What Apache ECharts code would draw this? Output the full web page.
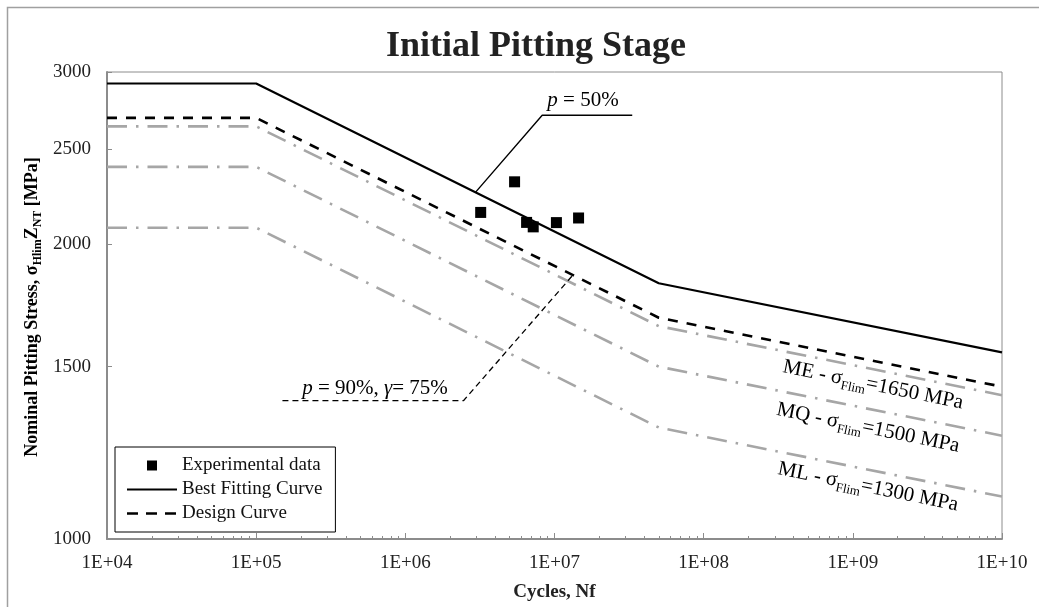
<!DOCTYPE html>
<html><head><meta charset="utf-8">
<script src="https://cdn.jsdelivr.net/npm/echarts@6/dist/echarts.min.js"></script>
<style>html,body{margin:0;padding:0;background:#fff}#c{width:1039px;height:607px}</style>
</head><body><div id="c"></div>
<script>
// ---- data ----
const cycleTicks = [1e4, 1e5, 1e6, 1e7, 1e8, 1e9, 1e10];
const stressTicks = [1000, 1500, 2000, 2500, 3000];
const curveCycles = [1e4, 1e5, 5e7, 1e10];
const bestFit = [2920, 2920, 1825, 1551];
const designCurve = [2693, 2693, 1683, 1431];
const meCurve = [2640, 2640, 1650, 1402.5];
const mqCurve = [2400, 2400, 1500, 1275];
const mlCurve = [2080, 2080, 1300, 1105];
const expCycles = [3.2e6, 5.4e6, 6.5e6, 7.2e6, 1.03e7, 1.45e7];
const expStress = [2156, 2317, 2106, 2084, 2105, 2128];
const p50LeaderCycles = [2.95e6, 8.27e6, 3.32e7];
const p50LeaderStress = [2260, 2710, 2710];
const p90LeaderCycles = [1.5e5, 2.46e6, 1.33e7];
const p90LeaderStress = [1385, 1385, 1861];

// minor tick positions (2..9 within each decade)
const minorTicks = [];
for (let i = 0; i < cycleTicks.length - 1; i++) {
  for (let k = 2; k <= 9; k++) minorTicks.push(k * cycleTicks[i]);
}
const zip = (xs, ys) => xs.map((x, i) => [x, ys[i]]);

const FONT = 'Liberation Serif';
const GRAY = '#a6a6a6';
const GRAYTXT = '#8c8c8c';
const AXIS = '#8c8c8c';

// legend icons (box 50 x 14, degenerate corner points keep the box size)
const ICON_SQUARE = 'path://M0,0L0,0M20,2L30,2L30,12L20,12ZM50,14L50,14';
const ICON_SOLID = 'path://M0,0L0,0M0,6L50,6L50,8L0,8ZM50,14L50,14';
const ICON_DASH = 'path://M0,0L0,0M0,5.7L11,5.7L11,8.3L0,8.3ZM19,5.7L30,5.7L30,8.3L19,8.3ZM38,5.7L49,5.7L49,8.3L38,8.3ZM50,14L50,14';

const chart = echarts.init(document.getElementById('c'), null, {renderer: 'canvas'});

function grayLine(name, data) {
  return {
    name, type: 'line', data: zip(curveCycles, data), symbol: 'none', silent: true, z: 2,
    lineStyle: {color: GRAY, width: 2.6, type: [20, 9, 2.5, 9]}
  };
}

const grayRich = {
  n: {fontFamily: FONT, fontSize: 21, color: GRAYTXT},
  s: {fontFamily: FONT, fontSize: 13, color: GRAYTXT, padding: [14, 0, 0, 0]}
};
const rot = -11.5 * Math.PI / 180;

chart.setOption({
  animation: false,
  backgroundColor: '#fff',
  title: {
    text: 'Initial Pitting Stage', left: 386, top: 29, padding: 0,
    textStyle: {fontFamily: FONT, fontWeight: 'bold', fontSize: 36, color: '#222'}
  },
  grid: {left: 107, right: 37, top: 72, bottom: 64, show: true, borderColor: AXIS, borderWidth: 1},
  legend: {
    orient: 'vertical', left: 115, top: 447, itemWidth: 50, itemHeight: 14, itemGap: 5,
    padding: [9, 13, 9, 12], borderColor: '#000', borderWidth: 1, backgroundColor: '#fff',
    selectedMode: false,
    textStyle: {fontFamily: FONT, fontSize: 19, color: '#111'},
    data: [
      {name: 'Experimental data', icon: ICON_SQUARE, itemStyle: {color: '#000', opacity: 1}},
      {name: 'Best Fitting Curve', icon: ICON_SOLID, itemStyle: {color: '#000'}},
      {name: 'Design Curve', icon: ICON_DASH, itemStyle: {color: '#000'}}
    ]
  },
  xAxis: [{
    type: 'log', min: 1e4, max: 1e10, logBase: 10,
    axisLine: {lineStyle: {color: AXIS, width: 2}},
    axisTick: {inside: true, length: 6, lineStyle: {color: AXIS}, customValues: cycleTicks},
    axisLabel: {
      customValues: cycleTicks, margin: 15, fontFamily: FONT, fontSize: 19, color: '#222',
      formatter: v => '1E+' + String(Math.round(Math.log10(v))).padStart(2, '0')
    },
    splitLine: {show: false}, minorTick: {show: false},
    name: 'Cycles, Nf', nameLocation: 'middle', nameGap: 44,
    nameTextStyle: {fontFamily: FONT, fontWeight: 'bold', fontSize: 19, color: '#222'}
  }, {
    type: 'log', min: 1e4, max: 1e10, position: 'bottom',
    axisLine: {show: false}, axisLabel: {show: false}, splitLine: {show: false},
    axisTick: {show: true, inside: true, length: 3, lineStyle: {color: AXIS}, customValues: minorTicks}
  }],
  yAxis: {
    type: 'log', min: 1000, max: 3000, logBase: 10,
    axisLine: {lineStyle: {color: AXIS, width: 2}},
    axisTick: {inside: true, length: 5, lineStyle: {color: AXIS}, customValues: stressTicks},
    axisLabel: {customValues: stressTicks, margin: 16, fontFamily: FONT, fontSize: 19, color: '#222',
      formatter: v => String(Math.round(v))},
    splitLine: {show: false}
  },
  series: [
    grayLine('ME', meCurve),
    grayLine('MQ', mqCurve),
    grayLine('ML', mlCurve),
    {
      name: 'Design Curve', type: 'line', data: zip(curveCycles, designCurve), symbol: 'none', z: 3,
      lineStyle: {color: '#000', width: 2.6, type: [10, 9]}, itemStyle: {color: '#000'}
    },
    {
      name: 'Best Fitting Curve', type: 'line', data: zip(curveCycles, bestFit), symbol: 'none', z: 4,
      lineStyle: {color: '#000', width: 2.2}, itemStyle: {color: '#000'}
    },
    {
      name: 'p50 leader', type: 'line', data: zip(p50LeaderCycles, p50LeaderStress), symbol: 'none', silent: true, z: 4,
      lineStyle: {color: '#000', width: 1.4}
    },
    {
      name: 'p90 leader', type: 'line', data: zip(p90LeaderCycles, p90LeaderStress), symbol: 'none', silent: true, z: 4,
      lineStyle: {color: '#000', width: 1.3, type: [6, 4]}
    },
    {
      name: 'Experimental data', type: 'scatter', data: zip(expCycles, expStress), symbol: 'rect', symbolSize: 11, z: 5,
      itemStyle: {color: '#000', opacity: 1}
    }
  ],
  graphic: [
    {type: 'rect', shape: {x: 7.5, y: 7.5, width: 1100, height: 700}, style: {fill: 'none', stroke: '#a0a0a0', lineWidth: 1.5}, silent: true, z: -1},
    {
      type: 'text', x: 32, y: 307, rotation: Math.PI / 2, silent: true,
      style: {
        text: '{b|Nominal Pitting Stress, σ}{s|Hlim}{b|Z}{s|NT}{b| [MPa]}', align: 'center', verticalAlign: 'middle',
        rich: {
          b: {fontFamily: FONT, fontWeight: 'bold', fontSize: 18, color: '#222'},
          s: {fontFamily: FONT, fontWeight: 'bold', fontSize: 12, color: '#222', padding: [12, 0, 0, 0]}
        }
      }
    },
    {
      type: 'text', x: 583, y: 100, silent: true,
      style: {
        text: '{i|p}{n| = 50%}', align: 'center', verticalAlign: 'middle',
        rich: {i: {fontFamily: FONT, fontStyle: 'italic', fontSize: 21, color: '#222'}, n: {fontFamily: FONT, fontSize: 21, color: '#222'}}
      }
    },
    {
      type: 'text', x: 375, y: 388, silent: true,
      style: {
        text: '{i|p}{n| = 90%, }{i|γ}{n|= 75%}', align: 'center', verticalAlign: 'middle',
        rich: {i: {fontFamily: FONT, fontStyle: 'italic', fontSize: 21, color: '#222'}, n: {fontFamily: FONT, fontSize: 21, color: '#222'}}
      }
    },
    {type: 'text', x: 873, y: 385, rotation: rot, silent: true,
      style: {text: '{n|ME - σ}{s|Flim}{n|=1650 MPa}', align: 'center', verticalAlign: 'middle', rich: grayRich}},
    {type: 'text', x: 868, y: 428, rotation: rot, silent: true,
      style: {text: '{n|MQ - σ}{s|Flim}{n|=1500 MPa}', align: 'center', verticalAlign: 'middle', rich: grayRich}},
    {type: 'text', x: 868, y: 487, rotation: rot, silent: true,
      style: {text: '{n|ML - σ}{s|Flim}{n|=1300 MPa}', align: 'center', verticalAlign: 'middle', rich: grayRich}}
  ]
});
</script>
</body></html>
